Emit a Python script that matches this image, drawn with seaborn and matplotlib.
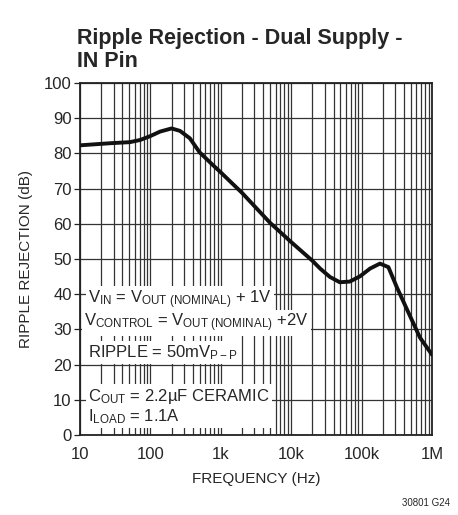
import matplotlib
matplotlib.use("Agg")
import matplotlib.pyplot as plt
import seaborn as sns
import pandas as pd
from matplotlib.ticker import LogLocator, FixedLocator, NullFormatter

# values
freq_hz = [10, 27, 51, 71, 99, 137, 200, 263, 363, 500, 780, 1000, 1500, 2000,
           5000, 10000, 20000, 25700, 35500, 49000, 68000, 95000, 132000,
           182000, 240000, 316000, 438000, 673000, 1000000]
rejection_db = [82.3, 82.9, 83.2, 83.8, 84.9, 86.2, 87.1, 86.4, 84.3, 80.3,
                76.6, 74.6, 71.2, 68.8, 60.3, 54.8, 49.5, 47.3, 44.9, 43.4,
                43.6, 45.1, 47.3, 48.7, 47.7, 42.0, 35.8, 27.7, 22.8]
x_ticks = [10, 100, 1000, 10000, 100000, 1000000]
x_labels = ["10", "100", "1k", "10k", "100k", "1M"]
y_ticks = list(range(0, 101, 10))

df = pd.DataFrame({"freq": freq_hz, "db": rejection_db})

sns.set_style("white")
font = ["Liberation Sans Narrow", "Liberation Sans", "DejaVu Sans"]
plt.rcParams["font.family"] = font
plt.rcParams["mathtext.fontset"] = "custom"
plt.rcParams["mathtext.rm"] = "Liberation Sans"
plt.rcParams["mathtext.it"] = "Liberation Sans"

fig = plt.figure(figsize=(4.58, 5.15), dpi=100)
ax = fig.add_axes([0.1747, 0.1553, 0.7686, 0.6835])

ax.set_xscale("log")
ax.set_xlim(10, 1e6)
ax.set_ylim(0, 100)

grid_col = "#333333"
ax.xaxis.set_major_locator(FixedLocator(x_ticks))
ax.xaxis.set_minor_locator(LogLocator(base=10, subs=range(2, 10), numticks=20))
ax.xaxis.set_minor_formatter(NullFormatter())
ax.set_xticklabels(x_labels)
ax.set_yticks(y_ticks)
ax.grid(True, which="major", color=grid_col, lw=0.9)
ax.grid(True, which="minor", axis="x", color=grid_col, lw=0.9)
ax.set_axisbelow(True)

sns.lineplot(data=df, x="freq", y="db", color="#111111", lw=2.8, ax=ax, zorder=5)

for s in ax.spines.values():
    s.set_color("#222222")
    s.set_linewidth(1.3)

ax.tick_params(axis="y", which="major", left=True, length=4, width=0.9,
               color="#222222", labelsize=12, pad=2)
ax.tick_params(axis="x", which="both", bottom=False, labelsize=12, pad=5)

ax.set_xlabel("FREQUENCY (Hz)", fontsize=11, labelpad=7)
ax.set_ylabel("RIPPLE REJECTION (dB)", fontsize=11, labelpad=8)

box = dict(facecolor="white", edgecolor="none", pad=1.5)
ax.text(13.0, 38.5, r"V$_{\mathrm{IN}}$ = V$_{\mathrm{OUT\ (NOMINAL)}}$ + 1V",
        fontsize=12, va="center", ha="left", bbox=box, zorder=6)
ax.text(11.5, 31.8, r"V$_{\mathrm{CONTROL}}$ = V$_{\mathrm{OUT\ (NOMINAL)}}$ +2V",
        fontsize=12, va="center", ha="left", bbox=box, zorder=6)
ax.text(13.0, 23.5, r"RIPPLE = 50mV$_{\mathrm{P-P}}$",
        fontsize=12, va="center", ha="left", bbox=box, zorder=6)
ax.text(13.0, 8.2, "C$_{\\mathrm{OUT}}$ = 2.2\u00b5F CERAMIC\nI$_{\\mathrm{LOAD}}$ = 1.1A",
        fontsize=12, va="center", ha="left", bbox=box, zorder=6, linespacing=1.1)

fig.text(0.168, 0.946, "Ripple Rejection - Dual Supply -\nIN Pin", fontsize=15.5,
         fontweight="bold", ha="left", va="top", linespacing=1.12)
fig.text(0.877, 0.013, "30801 G24", fontsize=7, ha="left", va="bottom")

fig.savefig("out.png", dpi=100)
